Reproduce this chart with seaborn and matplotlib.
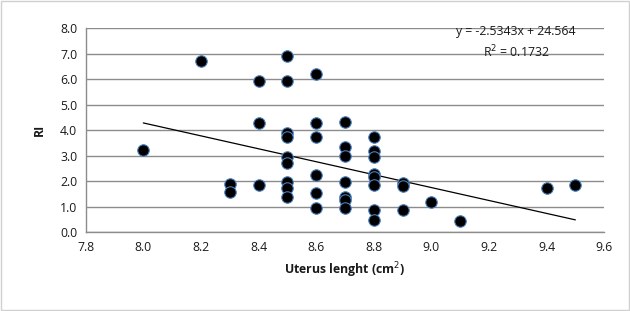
import matplotlib
matplotlib.use("Agg")
import matplotlib.pyplot as plt
import seaborn as sns
import numpy as np
import pandas as pd
from matplotlib.patches import Rectangle

# Data
uterus_length = [8.0, 8.2, 8.3, 8.3, 8.4, 8.4, 8.4,
                 8.5, 8.5, 8.5, 8.5, 8.5, 8.5, 8.5, 8.5, 8.5,
                 8.6, 8.6, 8.6, 8.6, 8.6, 8.6,
                 8.7, 8.7, 8.7, 8.7, 8.7, 8.7, 8.7,
                 8.8, 8.8, 8.8, 8.8, 8.8, 8.8, 8.8, 8.8,
                 8.9, 8.9, 8.9, 9.0, 9.1, 9.4, 9.5]
ri_values = [3.22, 6.72, 1.88, 1.58, 5.93, 4.27, 1.85,
             6.93, 5.93, 3.90, 3.75, 2.94, 2.73, 1.96, 1.72, 1.40,
             6.21, 4.27, 3.75, 2.25, 1.55, 0.97,
             4.31, 3.33, 2.99, 1.97, 1.37, 1.27, 0.97,
             3.75, 3.20, 2.94, 2.29, 2.16, 1.85, 0.87, 0.48,
             1.92, 1.83, 0.87, 1.18, 0.44, 1.72, 1.85]
trend_slope = -2.5343
trend_intercept = 24.564
r_squared = 0.1732
x_ticks = [7.8, 8.0, 8.2, 8.4, 8.6, 8.8, 9.0, 9.2, 9.4, 9.6]
y_ticks = [0.0, 1.0, 2.0, 3.0, 4.0, 5.0, 6.0, 7.0, 8.0]

df = pd.DataFrame({"x": uterus_length, "y": ri_values})

sns.set_theme(style="white")
plt.rcParams['font.family'] = ['Open Sans', 'DejaVu Sans']

fig = plt.figure(figsize=(6.3, 3.11), dpi=100)
ax = fig.add_axes([0.136, 0.253, 0.823, 0.656])

for yt in y_ticks:
    ax.axhline(yt, color="#8c8c8c", lw=1.0, zorder=0)

sns.scatterplot(data=df, x="x", y="y", ax=ax, s=68, color="black",
                edgecolor="#4a7ebb", linewidth=0.8, zorder=3)

xmin, xmax = min(uterus_length), max(uterus_length)
tx = np.array([xmin, xmax])
ax.plot(tx, trend_slope * tx + trend_intercept, color="black", lw=0.9, zorder=2)

ax.set_xlim(x_ticks[0], x_ticks[-1])
ax.set_ylim(y_ticks[0], y_ticks[-1])
ax.set_xticks(x_ticks)
ax.set_yticks(y_ticks)
ax.set_xticklabels([f"{v:.1f}" for v in x_ticks], fontsize=8.8)
ax.set_yticklabels([f"{v:.1f}" for v in y_ticks], fontsize=8.8)
ax.tick_params(axis="both", length=0, pad=6, colors="#1a1a1a")

for side in ["top", "right"]:
    ax.spines[side].set_visible(False)
ax.spines["left"].set_color("#8c8c8c")
ax.spines["bottom"].set_color("#8c8c8c")
ax.spines["left"].set_linewidth(1.0)
ax.spines["bottom"].set_linewidth(1.0)

ax.set_xlabel("Uterus lenght (cm$^2$)", fontsize=8.8, fontweight="bold", labelpad=5,
              color="#1a1a1a")
ax.set_ylabel("RI", fontsize=8.8, fontweight="bold", labelpad=10, color="#1a1a1a")

ax.text(0.83, 0.985, f"y = {trend_slope}x + {trend_intercept}", transform=ax.transAxes,
        ha="center", va="center", fontsize=8.8, color="#1a1a1a")
ax.text(0.83, 0.885, f"R$^2$ = {r_squared}", transform=ax.transAxes,
        ha="center", va="center", fontsize=8.8, color="#1a1a1a")

fig.patches.append(Rectangle((0.001, 0.002), 0.997, 0.995, transform=fig.transFigure,
                             fill=False, edgecolor="#d0d0d0", lw=1.0))

fig.savefig("out.png", dpi=100, facecolor="white")
